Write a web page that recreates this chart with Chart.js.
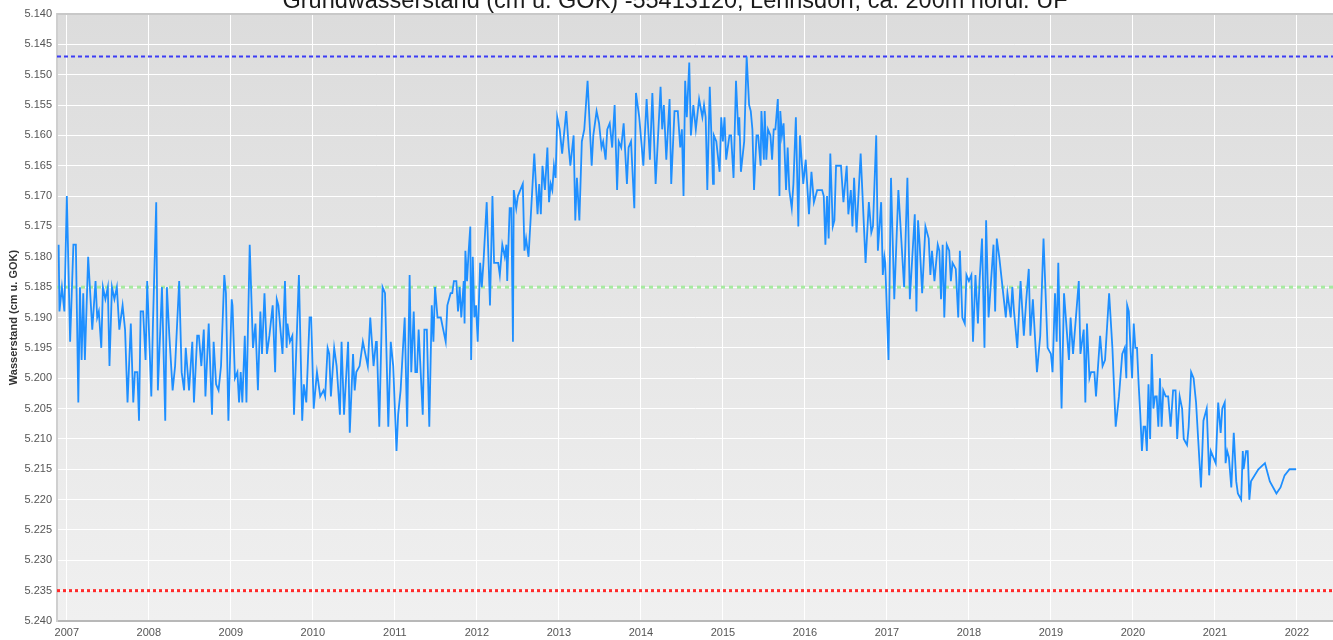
<!DOCTYPE html>
<html lang="de">
<head>
  <meta charset="UTF-8">
  <title>Grundwasserstand Lehnsdorf</title>
  <script src="https://cdn.jsdelivr.net/npm/chart.js"></script>
  <style>
    body { margin: 0; background: #fff; }
    canvas { display: block; }
  </style>
</head>
<body>
  <canvas id="gwChart" width="1333" height="640"></canvas>
  <script>
    const titel = 'Grundwasserstand (cm u. GOK) -55413120, Lehnsdorf, ca. 200m nördl. UF';
    const achsenTitel = 'Wasserstand (cm u. GOK)';

    // Achsen
    const jahre = [2007, 2008, 2009, 2010, 2011, 2012, 2013, 2014, 2015, 2016, 2017, 2018, 2019, 2020, 2021, 2022];
    const yTicks = [5.140, 5.145, 5.150, 5.155, 5.160, 5.165, 5.170, 5.175, 5.180, 5.185, 5.190,
                    5.195, 5.200, 5.205, 5.210, 5.215, 5.220, 5.225, 5.230, 5.235, 5.240];
    const xMin = 2006.88, xMax = 2022.44;

    // Grenzwerte (Linien)
    const grenzeOben = 5.147;   // blau gestrichelt
    const mittelwert = 5.185;   // grün gepunktet
    const grenzeUnten = 5.235;  // rot gepunktet

    // Messwerte, Zeit als Dezimaljahr
    const t07 = [2006.90, 2006.91, 2006.94, 2006.97, 2007.00, 2007.04, 2007.08, 2007.11, 2007.14, 2007.16,
                 2007.18, 2007.20, 2007.22, 2007.26, 2007.31, 2007.35, 2007.37, 2007.39, 2007.42, 2007.44,
                 2007.47, 2007.50, 2007.52, 2007.55, 2007.58, 2007.61, 2007.64, 2007.68, 2007.71, 2007.74,
                 2007.78, 2007.81, 2007.83, 2007.86, 2007.88, 2007.90, 2007.93, 2007.96, 2007.98, 2008.03,
                 2008.05, 2008.09, 2008.11, 2008.16, 2008.20, 2008.22, 2008.25, 2008.29, 2008.32, 2008.37,
                 2008.40, 2008.43, 2008.45, 2008.49, 2008.53, 2008.55, 2008.59, 2008.61, 2008.64, 2008.67,
                 2008.69, 2008.73, 2008.77, 2008.79, 2008.82, 2008.85, 2008.88, 2008.92, 2008.94, 2008.97,
                 2009.01, 2009.02, 2009.05, 2009.08, 2009.10, 2009.12, 2009.14, 2009.17, 2009.19, 2009.23,
                 2009.27, 2009.30, 2009.33, 2009.36, 2009.38, 2009.41, 2009.44, 2009.47, 2009.51, 2009.54];
    const w07 = [5.178, 5.189, 5.185, 5.189, 5.170, 5.194, 5.178, 5.178, 5.204, 5.185,
                 5.197, 5.186, 5.197, 5.180, 5.192, 5.184, 5.190, 5.189, 5.195, 5.185,
                 5.187, 5.185, 5.198, 5.185, 5.187, 5.185, 5.192, 5.188, 5.192, 5.204,
                 5.191, 5.204, 5.199, 5.199, 5.207, 5.189, 5.189, 5.197, 5.184, 5.203,
                 5.191, 5.171, 5.202, 5.185, 5.207, 5.185, 5.193, 5.202, 5.198, 5.184,
                 5.199, 5.202, 5.195, 5.202, 5.194, 5.204, 5.193, 5.193, 5.198, 5.192,
                 5.203, 5.191, 5.206, 5.194, 5.201, 5.202, 5.198, 5.183, 5.186, 5.207,
                 5.187, 5.188, 5.200, 5.199, 5.204, 5.199, 5.204, 5.193, 5.204, 5.178,
                 5.195, 5.191, 5.202, 5.189, 5.196, 5.186, 5.196, 5.193, 5.188, 5.199];

    const t09 = [2009.56, 2009.58, 2009.63, 2009.66, 2009.68, 2009.69, 2009.72, 2009.75, 2009.77, 2009.83,
                 2009.87, 2009.89, 2009.92, 2009.96, 2009.98, 2010.01, 2010.05, 2010.09, 2010.13, 2010.15,
                 2010.18, 2010.20, 2010.22, 2010.26, 2010.29, 2010.33, 2010.35, 2010.38, 2010.43, 2010.45,
                 2010.49, 2010.51, 2010.53, 2010.57, 2010.61, 2010.67, 2010.70, 2010.74, 2010.77, 2010.78,
                 2010.81, 2010.85, 2010.88, 2010.92, 2010.95, 2010.98, 2011.02, 2011.04, 2011.07, 2011.12,
                 2011.15, 2011.18, 2011.20, 2011.23, 2011.25, 2011.27, 2011.29, 2011.34, 2011.36, 2011.39,
                 2011.42, 2011.45, 2011.47, 2011.49, 2011.52, 2011.56, 2011.59, 2011.62, 2011.64, 2011.68,
                 2011.70, 2011.72, 2011.75, 2011.77, 2011.79, 2011.81, 2011.84, 2011.85, 2011.86, 2011.88,
                 2011.90, 2011.92, 2011.93, 2011.95, 2011.97, 2011.99, 2012.01, 2012.04, 2012.06, 2012.08,
                 2012.12, 2012.16];
    const w09 = [5.187, 5.188, 5.196, 5.184, 5.195, 5.191, 5.194, 5.193, 5.206, 5.183,
                 5.207, 5.201, 5.204, 5.190, 5.190, 5.205, 5.199, 5.203, 5.202, 5.203,
                 5.195, 5.196, 5.203, 5.195, 5.198, 5.206, 5.194, 5.206, 5.194, 5.209,
                 5.196, 5.202, 5.199, 5.198, 5.194, 5.198, 5.190, 5.198, 5.194, 5.194,
                 5.208, 5.185, 5.186, 5.208, 5.194, 5.198, 5.212, 5.206, 5.202, 5.190,
                 5.208, 5.183, 5.199, 5.189, 5.199, 5.199, 5.192, 5.206, 5.192, 5.192,
                 5.208, 5.188, 5.194, 5.185, 5.190, 5.190, 5.192, 5.194, 5.188, 5.186,
                 5.186, 5.184, 5.184, 5.189, 5.185, 5.190, 5.184, 5.191, 5.179, 5.184,
                 5.179, 5.175, 5.197, 5.180, 5.190, 5.188, 5.194, 5.181, 5.185, 5.181,
                 5.171, 5.188];

    const t12 = [2012.19, 2012.21, 2012.26, 2012.28, 2012.31, 2012.34, 2012.36, 2012.37, 2012.40, 2012.42,
                 2012.44, 2012.45, 2012.48, 2012.50, 2012.56, 2012.58, 2012.60, 2012.63, 2012.70, 2012.74,
                 2012.76, 2012.78, 2012.80, 2012.83, 2012.86, 2012.88, 2012.90, 2012.92, 2012.94, 2012.96,
                 2012.98, 2013.01, 2013.04, 2013.09, 2013.12, 2013.14, 2013.18, 2013.20, 2013.22, 2013.25,
                 2013.28, 2013.31, 2013.35, 2013.40, 2013.42, 2013.46, 2013.49, 2013.52, 2013.54, 2013.57,
                 2013.59, 2013.62, 2013.65, 2013.68, 2013.71, 2013.73, 2013.76, 2013.79, 2013.83, 2013.85,
                 2013.88, 2013.92, 2013.94, 2013.98, 2014.03, 2014.07, 2014.11, 2014.14, 2014.18, 2014.24,
                 2014.26, 2014.28, 2014.31, 2014.35, 2014.37, 2014.41, 2014.45, 2014.48, 2014.50, 2014.52,
                 2014.54, 2014.56, 2014.59, 2014.61, 2014.64, 2014.67, 2014.71];
    const w12 = [5.170, 5.181, 5.181, 5.183, 5.178, 5.180, 5.178, 5.184, 5.172, 5.172,
                 5.194, 5.169, 5.172, 5.170, 5.168, 5.179, 5.177, 5.180, 5.163, 5.173,
                 5.168, 5.173, 5.165, 5.169, 5.162, 5.171, 5.168, 5.169, 5.165, 5.167,
                 5.157, 5.159, 5.163, 5.156, 5.162, 5.165, 5.160, 5.174, 5.167, 5.174,
                 5.161, 5.159, 5.151, 5.165, 5.160, 5.156, 5.158, 5.162, 5.161, 5.164,
                 5.159, 5.158, 5.162, 5.155, 5.169, 5.161, 5.162, 5.158, 5.168, 5.162,
                 5.161, 5.172, 5.153, 5.157, 5.165, 5.154, 5.164, 5.153, 5.168, 5.152,
                 5.159, 5.155, 5.164, 5.154, 5.168, 5.156, 5.156, 5.162, 5.159, 5.170,
                 5.151, 5.157, 5.148, 5.160, 5.155, 5.159, 5.154];

    const t14 = [2014.75, 2014.77, 2014.79, 2014.81, 2014.84, 2014.88, 2014.89, 2014.92, 2014.96, 2014.98,
                 2015.00, 2015.02, 2015.04, 2015.08, 2015.10, 2015.13, 2015.16, 2015.19, 2015.20, 2015.22,
                 2015.26, 2015.29, 2015.32, 2015.34, 2015.36, 2015.38, 2015.41, 2015.43, 2015.46, 2015.47,
                 2015.50, 2015.51, 2015.53, 2015.55, 2015.58, 2015.60, 2015.62, 2015.64, 2015.67, 2015.69,
                 2015.70, 2015.72, 2015.74, 2015.77, 2015.79, 2015.81, 2015.84, 2015.86, 2015.89, 2015.92,
                 2015.94, 2015.98, 2016.01, 2016.05, 2016.08, 2016.11, 2016.15, 2016.17, 2016.21, 2016.23,
                 2016.25, 2016.27, 2016.29, 2016.31, 2016.34, 2016.36, 2016.38, 2016.44, 2016.47, 2016.51,
                 2016.53, 2016.56, 2016.58, 2016.60, 2016.63, 2016.68, 2016.74, 2016.78, 2016.81, 2016.83,
                 2016.87, 2016.89, 2016.93, 2016.95, 2016.97, 2016.98, 2017.02, 2017.05, 2017.09, 2017.14,
                 2017.21, 2017.25, 2017.28];
    const w14 = [5.157, 5.155, 5.157, 5.169, 5.152, 5.168, 5.160, 5.161, 5.166, 5.157,
                 5.161, 5.157, 5.164, 5.160, 5.160, 5.167, 5.151, 5.160, 5.157, 5.166,
                 5.161, 5.147, 5.155, 5.156, 5.159, 5.169, 5.160, 5.160, 5.165, 5.156,
                 5.164, 5.156, 5.164, 5.159, 5.160, 5.164, 5.159, 5.159, 5.154, 5.170,
                 5.156, 5.160, 5.158, 5.169, 5.162, 5.169, 5.172, 5.168, 5.157, 5.175,
                 5.160, 5.168, 5.164, 5.173, 5.166, 5.171, 5.169, 5.169, 5.169, 5.170,
                 5.178, 5.170, 5.177, 5.163, 5.175, 5.174, 5.165, 5.165, 5.171, 5.165,
                 5.173, 5.169, 5.175, 5.167, 5.176, 5.163, 5.181, 5.171, 5.176, 5.175,
                 5.160, 5.179, 5.171, 5.183, 5.180, 5.181, 5.197, 5.167, 5.187, 5.169,
                 5.185, 5.167, 5.187];

    const t17 = [2017.34, 2017.36, 2017.38, 2017.40, 2017.43, 2017.47, 2017.51, 2017.53, 2017.55, 2017.58,
                 2017.62, 2017.64, 2017.66, 2017.68, 2017.70, 2017.73, 2017.76, 2017.78, 2017.80, 2017.84,
                 2017.87, 2017.89, 2017.92, 2017.95, 2017.97, 2018.00, 2018.03, 2018.05, 2018.08, 2018.11,
                 2018.13, 2018.16, 2018.19, 2018.21, 2018.24, 2018.30, 2018.32, 2018.34, 2018.37, 2018.41,
                 2018.45, 2018.47, 2018.51, 2018.53, 2018.55, 2018.59, 2018.63, 2018.67, 2018.70, 2018.73,
                 2018.75, 2018.78, 2018.83, 2018.87, 2018.91, 2018.96, 2019.00, 2019.02, 2019.05, 2019.07,
                 2019.09, 2019.13, 2019.16, 2019.22, 2019.24, 2019.27, 2019.34, 2019.36, 2019.40, 2019.42,
                 2019.44, 2019.47, 2019.49, 2019.53, 2019.55, 2019.60, 2019.63, 2019.66, 2019.71, 2019.75,
                 2019.79];
    const w17 = [5.173, 5.189, 5.174, 5.178, 5.186, 5.175, 5.177, 5.183, 5.179, 5.184,
                 5.178, 5.179, 5.187, 5.178, 5.190, 5.178, 5.179, 5.184, 5.181, 5.182,
                 5.190, 5.179, 5.190, 5.191, 5.183, 5.184, 5.183, 5.194, 5.183, 5.191,
                 5.184, 5.177, 5.195, 5.174, 5.190, 5.178, 5.189, 5.177, 5.180, 5.185,
                 5.190, 5.186, 5.190, 5.185, 5.189, 5.195, 5.184, 5.193, 5.187, 5.182,
                 5.193, 5.187, 5.199, 5.193, 5.177, 5.195, 5.196, 5.199, 5.186, 5.194,
                 5.181, 5.205, 5.186, 5.197, 5.190, 5.196, 5.184, 5.196, 5.192, 5.204,
                 5.191, 5.200, 5.199, 5.199, 5.203, 5.193, 5.198, 5.197, 5.186, 5.195,
                 5.208];

    const t19 = [2019.83, 2019.87, 2019.90, 2019.92, 2019.93, 2019.95, 2019.97, 2019.99, 2020.01, 2020.03,
                 2020.05, 2020.07, 2020.09, 2020.11, 2020.13, 2020.15, 2020.17, 2020.19, 2020.21, 2020.23,
                 2020.25, 2020.27, 2020.29, 2020.31, 2020.33, 2020.35, 2020.37, 2020.40, 2020.43, 2020.46,
                 2020.49, 2020.52, 2020.54, 2020.57, 2020.60, 2020.62, 2020.66, 2020.68, 2020.71, 2020.74,
                 2020.77, 2020.80, 2020.83, 2020.86, 2020.90, 2020.93, 2020.95, 2020.98, 2021.01, 2021.04,
                 2021.07, 2021.09, 2021.12, 2021.13, 2021.15, 2021.17, 2021.20, 2021.23, 2021.26, 2021.28,
                 2021.32, 2021.34, 2021.35, 2021.38, 2021.40, 2021.42, 2021.44, 2021.53, 2021.61, 2021.67,
                 2021.75, 2021.80, 2021.85, 2021.91, 2021.99];
    const w19 = [5.203, 5.196, 5.195, 5.200, 5.188, 5.189, 5.195, 5.200, 5.191, 5.195,
                 5.195, 5.201, 5.206, 5.212, 5.208, 5.208, 5.212, 5.201, 5.210, 5.196,
                 5.205, 5.203, 5.203, 5.208, 5.200, 5.208, 5.202, 5.203, 5.203, 5.208,
                 5.202, 5.202, 5.210, 5.203, 5.205, 5.210, 5.211, 5.208, 5.199, 5.200,
                 5.204, 5.211, 5.218, 5.207, 5.205, 5.216, 5.212, 5.213, 5.214, 5.204,
                 5.209, 5.205, 5.204, 5.214, 5.212, 5.213, 5.218, 5.209, 5.217, 5.219,
                 5.220, 5.212, 5.215, 5.212, 5.212, 5.220, 5.217, 5.215, 5.214, 5.217,
                 5.219, 5.218, 5.216, 5.215, 5.215];

    const zeiten = [].concat(t07, t09, t12, t14, t17, t19);
    const stand = [].concat(w07, w09, w12, w14, w17, w19);
    const messpunkte = zeiten.map((t, i) => ({ x: t, y: stand[i] }));

    const linie = (wert) => [{ x: xMin, y: wert }, { x: xMax, y: wert }];

    // grauer Verlauf im Diagrammbereich
    const hintergrund = {
      id: 'hintergrund',
      beforeDraw(chart) {
        const { ctx, chartArea: a } = chart;
        ctx.save();
        ctx.fillStyle = '#ffffff';
        ctx.fillRect(0, 0, chart.width, chart.height);
        const g = ctx.createLinearGradient(0, a.top, 0, a.bottom);
        g.addColorStop(0, '#dcdcdc');
        g.addColorStop(1, '#f0f0f0');
        ctx.fillStyle = g;
        ctx.fillRect(a.left, a.top, a.right - a.left, a.bottom - a.top);
        ctx.restore();
      },
      beforeDatasetsDraw(chart) {
        const { ctx, chartArea: a } = chart;
        ctx.save();
        ctx.strokeStyle = '#c8c8c8';
        ctx.lineWidth = 2;
        ctx.beginPath();
        ctx.moveTo(a.left, a.top);
        ctx.lineTo(a.right, a.top);
        ctx.stroke();
        ctx.restore();
      }
    };

    // Titel, oben angeschnitten wie im Original
    const titelText = {
      id: 'titelText',
      afterDraw(chart) {
        const c = chart.ctx;
        c.save();
        c.font = '20px "Liberation Sans", Arial, sans-serif';
        const size = 20 * 784 / c.measureText(titel).width;
        c.font = size.toFixed(1) + 'px "Liberation Sans", Arial, sans-serif';
        c.fillStyle = '#1a1a1a';
        c.textAlign = 'center';
        c.textBaseline = 'alphabetic';
        c.fillText(titel, 675, 8);
        c.restore();
      }
    };

    Chart.defaults.font.family = 'Arial, "Liberation Sans", sans-serif';

    const ctx = document.getElementById('gwChart').getContext('2d');
    const gwChart = new Chart(ctx, {
      type: 'line',
      data: {
        datasets: [
          {
            label: 'Wasserstand',
            data: messpunkte,
            borderColor: '#1e8fff',
            borderWidth: 1.8,
            pointRadius: 0,
            tension: 0
          },
          {
            label: 'oben',
            data: linie(grenzeOben),
            borderColor: '#3c3cf5',
            borderWidth: 2,
            borderDash: [4, 3],
            pointRadius: 0
          },
          {
            label: 'Mittel',
            data: linie(mittelwert),
            borderColor: '#a6eaa0',
            borderWidth: 3,
            borderDash: [4, 4],
            pointRadius: 0
          },
          {
            label: 'unten',
            data: linie(grenzeUnten),
            borderColor: '#ff2b2b',
            borderWidth: 3,
            borderDash: [3, 3],
            pointRadius: 0
          }
        ]
      },
      options: {
        responsive: false,
        animation: false,
        devicePixelRatio: 1,
        layout: { padding: { top: 14, left: 0, right: 0, bottom: 0 } },
        plugins: {
          legend: { display: false },
          tooltip: { enabled: false },
          title: { display: false }
        },
        scales: {
          x: {
            type: 'linear',
            min: xMin,
            max: xMax,
            afterBuildTicks: (axis) => { axis.ticks = jahre.map(v => ({ value: v })); },
            afterFit: (axis) => { axis.height = 19; },
            grid: { color: '#ffffff', lineWidth: 1, drawTicks: false },
            border: { color: '#b8b8b8', width: 2 },
            ticks: {
              color: '#555',
              font: { size: 11 },
              padding: 5,
              maxRotation: 0,
              autoSkip: false,
              callback: (v) => String(v)
            }
          },
          y: {
            type: 'linear',
            reverse: true,
            min: 5.14,
            max: 5.24,
            afterBuildTicks: (axis) => { axis.ticks = yTicks.map(v => ({ value: v })); },
            afterFit: (axis) => { axis.width = 57; },
            grid: { color: '#ffffff', lineWidth: 1, drawTicks: false },
            border: { color: '#cfcfcf', width: 2 },
            ticks: {
              color: '#555',
              font: { size: 11 },
              padding: 5,
              callback: (v) => v.toFixed(3)
            },
            title: {
              display: true,
              text: achsenTitel,
              color: '#333',
              font: { size: 11, weight: 'bold' },
              padding: { top: 7, bottom: 0 }
            }
          }
        }
      },
      plugins: [hintergrund, titelText]
    });
  </script>
</body>
</html>
